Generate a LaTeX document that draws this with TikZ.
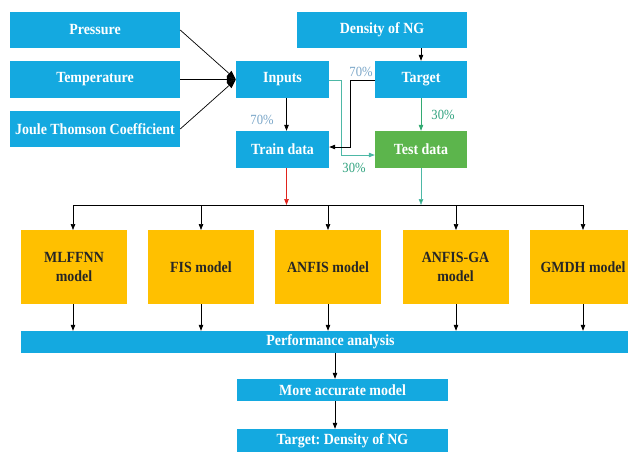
\documentclass[tikz,border=0pt]{standalone}
\usepackage{fontspec}
\setmainfont{Liberation Serif}[FakeStretch=0.9]
\usetikzlibrary{arrows.meta,calc}
\definecolor{boxblue}{HTML}{14A9E0}
\definecolor{boxgreen}{HTML}{5CB54C}
\definecolor{boxyellow}{HTML}{FFC000}
\definecolor{lblblue}{HTML}{7AA6C8}
\definecolor{lblteal}{HTML}{2FA27E}
\definecolor{lnteal}{HTML}{4DB8A6}
\definecolor{lngreen}{HTML}{33AA72}
\definecolor{lnred}{HTML}{E0231C}
\frenchspacing
\tikzset{
  bbox/.style={fill=boxblue, text=white, font=\fontsize{15.5}{17}\selectfont\bfseries, inner sep=0pt, align=center},
  gbox/.style={bbox, fill=boxgreen},
  ybox/.style={fill=boxyellow, text=black!85, font=\fontsize{15.5}{19}\selectfont\bfseries, inner sep=0pt, align=center, minimum width=106pt, minimum height=74pt},
  arr/.style={line width=0.7pt, -{Triangle[length=6pt,width=4.5pt]}},
  bigarr/.style={line width=0.7pt, -{Triangle[length=9pt,width=7pt]}},
  pct/.style={font=\fontsize{14}{16}\selectfont, inner sep=0pt}
}
\begin{document}
\begin{tikzpicture}[x=1pt,y=-1pt]
\useasboundingbox (0,0) rectangle (628,452);
\clip (0,0) rectangle (628,452);
% top boxes
\node[bbox, minimum width=170pt, minimum height=36pt] (pres) at (95,30) {Pressure};
\node[bbox, minimum width=170pt, minimum height=37pt] (temp) at (95,79.5) {Temperature};
\node[bbox, minimum width=170pt, minimum height=36pt] (joule) at (95,129) {Joule Thomson Coefficient};
\node[bbox, minimum width=93pt, minimum height=37pt] (inputs) at (282.5,79.5) {Inputs};
\node[bbox, minimum width=93pt, minimum height=37pt] (train) at (282.5,149.5) {Train data};
\node[bbox, minimum width=170pt, minimum height=36pt] (dens) at (382,30) {Density of NG};
\node[bbox, minimum width=92pt, minimum height=37pt] (target) at (421,79.5) {Target};
\node[gbox, minimum width=92pt, minimum height=37pt] (test) at (421,149.5) {Test data};
% models
\node[ybox] (m1) at (74,267) {MLFFNN\\model};
\node[ybox] (m2) at (201,267) {FIS model};
\node[ybox] (m3) at (328,267) {ANFIS model};
\node[ybox] (m4) at (455.5,267) {ANFIS-GA\\model};
\node[ybox] (m5) at (583,267) {GMDH model};
% bottom
\node[bbox, minimum width=619pt, minimum height=22pt] (perf) at (330.5,342) {Performance analysis};
\node[bbox, minimum width=211pt, minimum height=22pt] (more) at (342.5,390) {More accurate model};
\node[bbox, minimum width=211pt, minimum height=23pt] (final) at (342.5,440.5) {Target: Density of NG};
% converging inputs
\draw[bigarr] (pres.east) -- (inputs.west);
\draw[bigarr] (temp.east) -- (inputs.west);
\draw[bigarr] (joule.east) -- (inputs.west);
% density -> target
\draw[arr] (dens.south -| target.north) -- (target.north);
% inputs -> train
\coordinate (ins) at ($(inputs.south)+(4,0)$);
\coordinate (trn) at ($(train.north)+(4,0)$);
\coordinate (trs) at ($(train.south)+(4,0)$);
\draw[arr] (ins) -- (trn);
\node[pct, text=lblblue] (l70a) at (262,120) {70\%};
% inputs -> test (teal)
\coordinate (ti1) at (341,80);
\coordinate (ti2) at (341,155);
\draw[arr, draw=lnteal, -{Triangle[length=6pt,width=4.5pt,fill=lnteal]}] (inputs.east |- ti1) -- (ti1) -- (ti2) -- (test.west |- ti2);
\node[pct, text=lblteal] (l30a) at (354,168) {30\%};
% target -> train (black)
\coordinate (tt1) at (350,80);
\coordinate (tt2) at (350,147);
\draw[arr] (target.west |- tt1) -- (tt1) -- (tt2) -- (train.east |- tt2);
\node[pct, text=lblblue] (l70b) at (361,72) {70\%};
% target -> test (green)
\draw[arr, draw=lngreen, -{Triangle[length=6pt,width=4.5pt,fill=lngreen]}] (target.south) -- (test.north);
\node[pct, text=lblteal] (l30b) at (443,115) {30\%};
% distribution line
\coordinate (hl) at (73,205);
\coordinate (hr) at (583,205);
\draw[line width=0.7pt] (hl) -- (hr);
\draw[arr, draw=lnred, -{Triangle[length=6pt,width=4.5pt,fill=lnred]}] (trs) -- (trs |- hl);
\draw[arr, draw=lnteal, -{Triangle[length=6pt,width=4.5pt,fill=lngreen]}] (test.south) -- (test.south |- hl);
\foreach \m/\xx in {m1/73,m2/201,m3/328,m4/456,m5/583}{
  \draw[arr] (\xx,205) -- (\xx,230);
  \draw[arr] (\m.south -| {\xx,0}) -- (perf.north -| {\xx,0});
}
\draw[arr] (335,353) -- (more.north -| {335,0});
\draw[arr] (more.south -| {335,0}) -- (final.north -| {335,0});
\end{tikzpicture}
\end{document}
